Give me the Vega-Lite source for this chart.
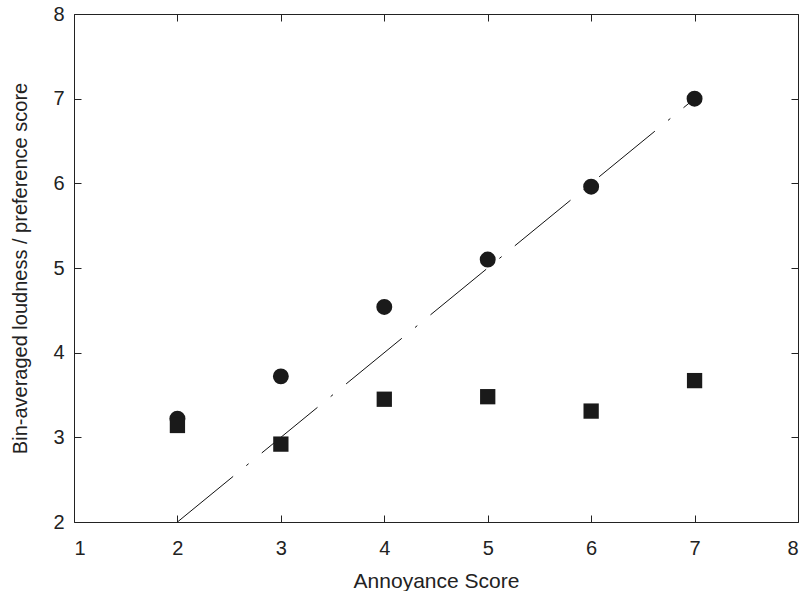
{
  "$schema": "https://vega.github.io/schema/vega-lite/v6.json",
  "autosize": {"type": "none"},
  "padding": {"left": 74, "top": 14, "right": 10, "bottom": 69},
  "width": 724,
  "height": 508,
  "background": "white",
  "config": {
    "view": {"stroke": "#222222", "strokeWidth": 1},
    "font": "Liberation Sans",
    "axis": {
      "grid": false,
      "domain": false,
      "tickColor": "#222222",
      "tickSize": -7,
      "tickWidth": 1,
      "labelColor": "#222222",
      "labelFont": "Liberation Sans",
      "labelFontSize": 20,
      "titleFont": "Liberation Sans",
      "titleFontSize": 20,
      "titleFontWeight": "normal",
      "titleColor": "#222222"
    }
  },
  "datasets": {
    "points": [
      {"score": 2, "value": 3.22, "series": "loudness"},
      {"score": 3, "value": 3.72, "series": "loudness"},
      {"score": 4, "value": 4.54, "series": "loudness"},
      {"score": 5, "value": 5.1, "series": "loudness"},
      {"score": 6, "value": 5.96, "series": "loudness"},
      {"score": 7, "value": 7.0, "series": "loudness"},
      {"score": 2, "value": 3.14, "series": "preference"},
      {"score": 3, "value": 2.92, "series": "preference"},
      {"score": 4, "value": 3.45, "series": "preference"},
      {"score": 5, "value": 3.48, "series": "preference"},
      {"score": 6, "value": 3.31, "series": "preference"},
      {"score": 7, "value": 3.67, "series": "preference"}
    ],
    "diag": [
      {"score": 2, "value": 2},
      {"score": 7, "value": 7}
    ]
  },
  "layer": [
    {
      "data": {"name": "diag"},
      "mark": {"type": "line", "color": "#111111", "strokeWidth": 1, "strokeDash": [72, 17, 3, 17]},
      "encoding": {
        "x": {"field": "score", "type": "quantitative", "scale": {"domain": [1, 8], "nice": false, "zero": false},
              "axis": {"title": "Annoyance Score", "titleFontSize": 21, "values": [1,2,3,4,5,6,7,8], "labelPadding": 23, "titlePadding": 12, "orient": "bottom"}},
        "y": {"field": "value", "type": "quantitative", "scale": {"domain": [2, 8], "nice": false, "zero": false},
              "axis": {"title": "Bin-averaged loudness / preference score", "values": [2,3,4,5,6,7,8], "labelPadding": 17, "titlePadding": 22, "orient": "left"}}
      }
    },
    {
      "data": {"name": "points"},
      "mark": {"type": "point", "filled": true, "opacity": 1, "color": "#1a1a1a"},
      "encoding": {
        "x": {"field": "score", "type": "quantitative", "scale": {"domain": [1, 8], "nice": false, "zero": false},
              "axis": {"title": null, "values": [1,2,3,4,5,6,7,8], "labels": false, "orient": "top"}},
        "y": {"field": "value", "type": "quantitative", "scale": {"domain": [2, 8], "nice": false, "zero": false},
              "axis": {"title": null, "values": [2,3,4,5,6,7,8], "labels": false, "orient": "right"}},
        "shape": {"field": "series", "type": "nominal", "scale": {"domain": ["loudness", "preference"], "range": ["circle", "square"]}, "legend": null},
        "size": {"field": "series", "type": "nominal", "scale": {"domain": ["loudness", "preference"], "range": [254, 234]}, "legend": null}
      }
    }
  ],
  "resolve": {"axis": {"x": "independent", "y": "independent"}}
}
